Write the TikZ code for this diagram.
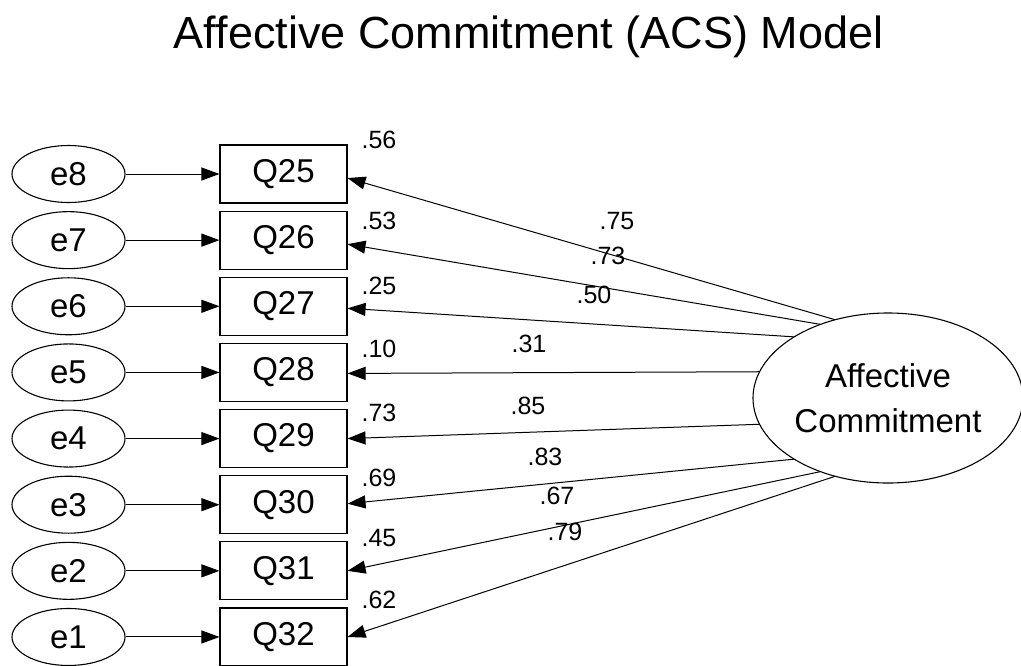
\documentclass[tikz,border=0pt]{standalone}
\usepackage{fontspec}
\setmainfont{Liberation Sans}
\usetikzlibrary{arrows.meta,shapes.geometric,calc}
\begin{document}
\begin{tikzpicture}[x=1pt,y=-1pt,
  obs/.style={draw, line width=1.1pt, minimum width=127pt, minimum height=58pt,
    inner sep=0pt, font=\fontsize{33}{36}\selectfont},
  err/.style={draw, ellipse, line width=1.1pt, minimum width=113pt, minimum height=57pt,
    inner sep=0pt, font=\fontsize{33}{36}\selectfont},
  lat/.style={draw, ellipse, line width=1.1pt, minimum width=270pt, minimum height=170pt,
    inner sep=0pt, align=center, font=\fontsize{33}{45}\selectfont},
  regarrow/.style={line width=1pt, -{Triangle[length=18pt,width=13pt]}},
  num/.style={inner sep=0pt, font=\fontsize{25}{28}\selectfont}]

\useasboundingbox (0,0) rectangle (1021,665);

% title
\node[font=\fontsize{45}{50}\selectfont, anchor=base, inner sep=0pt] (title)
  at (528.5,48) {Affective Commitment (ACS) Model};

% latent factor
\node[lat] (AC) at (888,398) {Affective\\Commitment};

% indicators with their error terms
\foreach \q/\e/\i in {25/8/0,26/7/1,27/6/2,28/5/3,29/4/4,30/3/5,31/2/6,32/1/7} {
  \node[obs] (q\q) at (283.5,{174+66.14*\i}) {Q\q};
  \node[err] (e\e) at (68.5,{174+66.14*\i}) {e\e};
  \draw[regarrow] (e\e) -- (q\q);
}

% factor loadings paths
\foreach \q/\a/\dy in {25/113/4,26/120/4,27/134/2,28/162/1,29/198/0,30/226/-1,31/240/0,32/247/0} {
  \coordinate (s\q) at ($(AC.center)+(\a:135pt and 85pt)$);
  \draw[regarrow] (s\q) -- ($(q\q.east)+(0,\dy)$);
}

% squared multiple correlations
\node[num] (r25) at (379,139.5) {.56};
\node[num] (r26) at (379,221) {.53};
\node[num] (r27) at (379,286) {.25};
\node[num] (r28) at (379,349) {.10};
\node[num] (r29) at (379,413) {.73};
\node[num] (r30) at (379,478) {.69};
\node[num] (r31) at (379,538) {.45};
\node[num] (r32) at (379,600) {.62};

% standardized loadings
\node[num] (l25) at (617,221) {.75};
\node[num] (l26) at (608,256) {.73};
\node[num] (l27) at (594,295) {.50};
\node[num] (l28) at (529,344) {.31};
\node[num] (l29) at (528,406) {.85};
\node[num] (l30) at (545,457) {.83};
\node[num] (l31) at (557,496) {.67};
\node[num] (l32) at (565,532) {.79};
\end{tikzpicture}
\end{document}
